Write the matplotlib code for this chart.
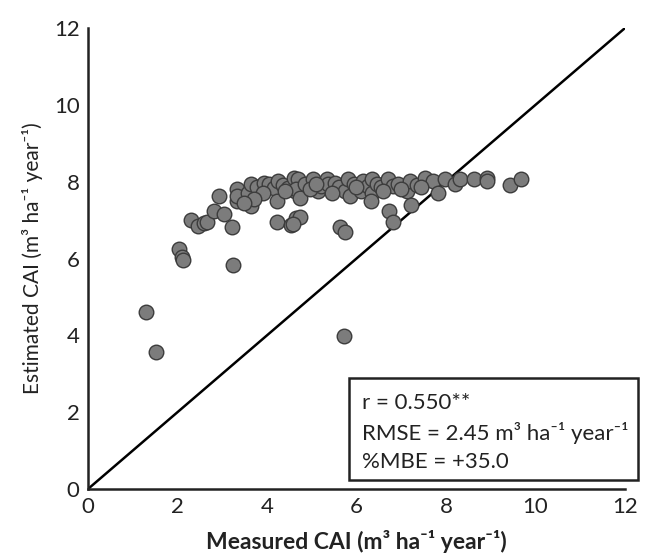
import matplotlib
matplotlib.use("Agg")
import matplotlib.pyplot as plt
from matplotlib.patches import Rectangle

plt.rcParams['font.family'] = ['Lato', 'DejaVu Sans']

# measured vs estimated CAI (m3 ha-1 year-1)
measured = [1.30, 1.53, 5.73, 2.03, 2.10, 2.13, 3.23, 2.31, 2.45, 2.59,
            2.65, 2.82, 3.03, 2.93, 3.22, 3.33, 3.33, 3.33, 3.64, 3.57,
            3.64, 3.78, 3.94, 4.05, 4.16, 4.24, 4.22, 4.35, 4.46, 4.61,
            4.63, 4.22, 4.54, 4.65, 4.73, 4.58, 4.69, 4.65, 4.73, 4.85,
            5.03, 5.14, 5.20, 5.33, 5.36, 5.51, 5.60, 5.74, 5.85, 5.81,
            5.95, 6.11, 6.15, 6.25, 6.34, 6.34, 6.32, 6.45, 6.55, 6.71,
            6.82, 6.92, 7.12, 7.20, 7.35, 7.54, 7.72, 7.98, 7.83, 7.22,
            6.73, 6.82, 5.63, 5.74, 8.21, 8.32, 8.62, 8.92, 8.92, 9.44,
            9.67, 4.40, 3.90, 3.70, 4.95, 5.45, 6.00, 6.60, 7.00, 7.45,
            3.48, 5.10]
estimated = [4.62, 3.57, 3.99, 6.26, 6.05, 5.96, 5.83, 7.00, 6.85, 6.92,
             6.95, 7.23, 7.17, 7.64, 6.83, 7.80, 7.49, 7.62, 7.36, 7.71,
             7.93, 7.85, 7.97, 7.95, 7.84, 8.01, 7.51, 7.92, 7.84, 8.10,
             7.75, 6.96, 6.88, 7.05, 7.09, 6.90, 8.08, 7.80, 7.58, 7.95,
             8.06, 7.76, 7.90, 8.06, 7.93, 7.97, 7.85, 7.76, 7.62, 8.06,
             7.95, 7.76, 8.01, 7.90, 8.06, 7.71, 7.49, 7.95, 7.85, 8.06,
             7.88, 7.95, 7.76, 8.01, 7.92, 8.10, 8.01, 8.06, 7.71, 7.40,
             7.23, 6.96, 6.83, 6.70, 7.93, 8.07, 8.07, 8.10, 8.02, 7.92,
             8.06, 7.75, 7.70, 7.55, 7.80, 7.70, 7.85, 7.75, 7.80, 7.85,
             7.45, 7.95]
one_to_one = [0, 12]
ticks = [0, 2, 4, 6, 8, 10, 12]
stats_lines = ["r = 0.550**",
               "RMSE = 2.45 m\u00b3 ha\u207b\u00b9 year\u207b\u00b9",
               "%MBE = +35.0"]

fig = plt.figure(figsize=(6.46, 5.56), dpi=100)
ax = fig.add_axes([0.1362, 0.1205, 0.8313, 0.8291])

# 1:1 line
ax.plot(one_to_one, one_to_one, color='black', lw=1.8, zorder=2)

ax.scatter(measured, estimated, s=110, facecolor='#7c7c7c',
           edgecolor='#3c3c3c', linewidth=1.0, zorder=3)

ax.set_xlim(0, 12)
ax.set_ylim(0, 12)
ax.set_xticks(ticks)
ax.set_yticks(ticks)
ax.tick_params(length=0, labelsize=16, colors='#222222', pad=6)

for s in ['top', 'right']:
    ax.spines[s].set_visible(False)
for s in ['left', 'bottom']:
    ax.spines[s].set_linewidth(1.8)
    ax.spines[s].set_color('#222222')

ax.set_xlabel("Measured CAI (m\u00b3 ha\u207b\u00b9 year\u207b\u00b9)",
              fontsize=16.5, fontweight='bold', color='#222222', labelpad=9)
ax.set_ylabel("Estimated CAI (m\u00b3 ha\u207b\u00b9 year\u207b\u00b9)",
              fontsize=15, color='#222222', labelpad=8)

# stats box
ax.add_patch(Rectangle((5.84, 0.23), 6.44, 2.66, fill=False,
                       edgecolor='#222222', lw=1.8, clip_on=False, zorder=4))
for i, line in enumerate(stats_lines):
    ax.text(6.13, 2.24 - i * 0.77, line, fontsize=16, color='#222222',
            va='center', ha='left')

fig.savefig("out.png", dpi=100)
